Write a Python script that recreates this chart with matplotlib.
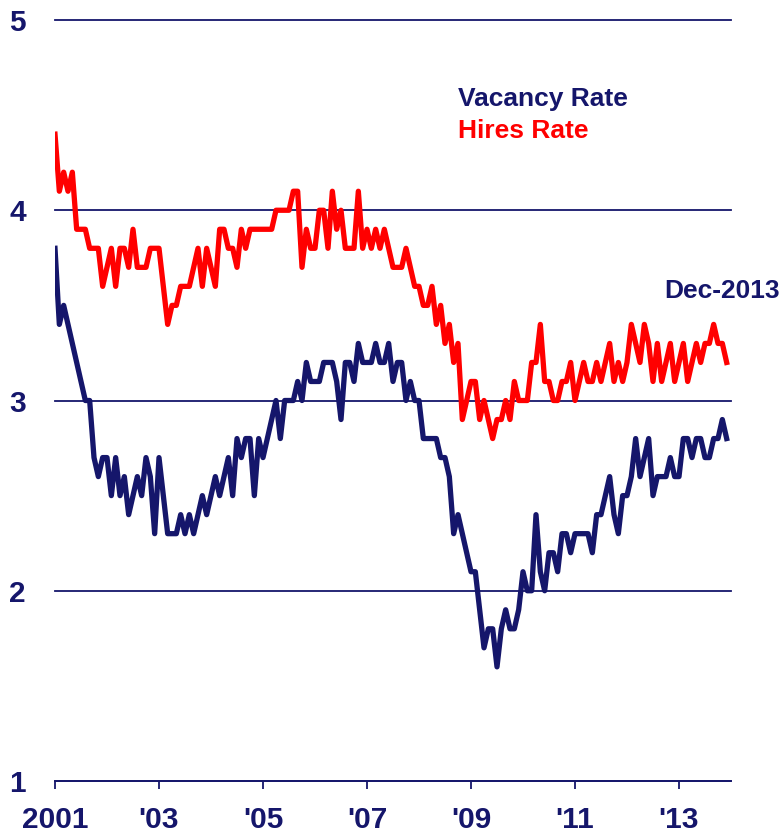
import numpy as np
import matplotlib
matplotlib.use("Agg")
import matplotlib.pyplot as plt

# Monthly data, Jan 2001 .. Dec 2013 (percent)
vacancy_rate = [
    3.8, 3.4, 3.5, 3.4, 3.3, 3.2, 3.1, 3.0, 3.0, 2.7, 2.6, 2.7,   # 2001
    2.7, 2.5, 2.7, 2.5, 2.6, 2.4, 2.5, 2.6, 2.5, 2.7, 2.6, 2.3,   # 2002
    2.7, 2.5, 2.3, 2.3, 2.3, 2.4, 2.3, 2.4, 2.3, 2.4, 2.5, 2.4,   # 2003
    2.5, 2.6, 2.5, 2.6, 2.7, 2.5, 2.8, 2.7, 2.8, 2.8, 2.5, 2.8,   # 2004
    2.7, 2.8, 2.9, 3.0, 2.8, 3.0, 3.0, 3.0, 3.1, 3.0, 3.2, 3.1,   # 2005
    3.1, 3.1, 3.2, 3.2, 3.2, 3.1, 2.9, 3.2, 3.2, 3.1, 3.3, 3.2,   # 2006
    3.2, 3.2, 3.3, 3.2, 3.2, 3.3, 3.1, 3.2, 3.2, 3.0, 3.1, 3.0,   # 2007
    3.0, 2.8, 2.8, 2.8, 2.8, 2.7, 2.7, 2.6, 2.3, 2.4, 2.3, 2.2,   # 2008
    2.1, 2.1, 1.9, 1.7, 1.8, 1.8, 1.6, 1.8, 1.9, 1.8, 1.8, 1.9,   # 2009
    2.1, 2.0, 2.0, 2.4, 2.1, 2.0, 2.2, 2.2, 2.1, 2.3, 2.3, 2.2,   # 2010
    2.3, 2.3, 2.3, 2.3, 2.2, 2.4, 2.4, 2.5, 2.6, 2.4, 2.3, 2.5,   # 2011
    2.5, 2.6, 2.8, 2.6, 2.7, 2.8, 2.5, 2.6, 2.6, 2.6, 2.7, 2.6,   # 2012
    2.6, 2.8, 2.8, 2.7, 2.8, 2.8, 2.7, 2.7, 2.8, 2.8, 2.9, 2.8,   # 2013
]
hires_rate = [
    4.4, 4.1, 4.2, 4.1, 4.2, 3.9, 3.9, 3.9, 3.8, 3.8, 3.8, 3.6,   # 2001
    3.7, 3.8, 3.6, 3.8, 3.8, 3.7, 3.9, 3.7, 3.7, 3.7, 3.8, 3.8,   # 2002
    3.8, 3.6, 3.4, 3.5, 3.5, 3.6, 3.6, 3.6, 3.7, 3.8, 3.6, 3.8,   # 2003
    3.7, 3.6, 3.9, 3.9, 3.8, 3.8, 3.7, 3.9, 3.8, 3.9, 3.9, 3.9,   # 2004
    3.9, 3.9, 3.9, 4.0, 4.0, 4.0, 4.0, 4.1, 4.1, 3.7, 3.9, 3.8,   # 2005
    3.8, 4.0, 4.0, 3.8, 4.1, 3.9, 4.0, 3.8, 3.8, 3.8, 4.1, 3.8,   # 2006
    3.9, 3.8, 3.9, 3.8, 3.9, 3.8, 3.7, 3.7, 3.7, 3.8, 3.7, 3.6,   # 2007
    3.6, 3.5, 3.5, 3.6, 3.4, 3.5, 3.3, 3.4, 3.2, 3.3, 2.9, 3.0,   # 2008
    3.1, 3.1, 2.9, 3.0, 2.9, 2.8, 2.9, 2.9, 3.0, 2.9, 3.1, 3.0,   # 2009
    3.0, 3.0, 3.2, 3.2, 3.4, 3.1, 3.1, 3.0, 3.0, 3.1, 3.1, 3.2,   # 2010
    3.0, 3.1, 3.2, 3.1, 3.1, 3.2, 3.1, 3.2, 3.3, 3.1, 3.2, 3.1,   # 2011
    3.2, 3.4, 3.3, 3.2, 3.4, 3.3, 3.1, 3.3, 3.1, 3.2, 3.3, 3.1,   # 2012
    3.2, 3.3, 3.1, 3.2, 3.3, 3.2, 3.3, 3.3, 3.4, 3.3, 3.3, 3.2,   # 2013
]
start_year = 2001
x_ticks = [2001, 2003, 2005, 2007, 2009, 2011, 2013]
x_tick_labels = ["2001", "'03", "'05", "'07", "'09", "'11", "'13"]
y_ticks = [1, 2, 3, 4, 5]
y_tick_labels = ["1", "2", "3", "4", "5"]
legend_labels = ["Vacancy Rate", "Hires Rate"]
end_label = "Dec-2013"

NAVY = "#15166B"
RED = "#FF0000"
FONT = ["Liberation Sans", "DejaVu Sans"]

plt.rcParams["font.family"] = FONT

months = np.arange(len(vacancy_rate))
x = start_year + months / 12.0

fig = plt.figure(figsize=(7.82, 8.34), dpi=100)
ax = fig.add_axes([55 / 782, 53 / 834, (731 - 55) / 782, (781 - 20) / 834])

ax.plot(x, vacancy_rate, color=NAVY, lw=3.8, solid_joinstyle="round", zorder=3)
ax.plot(x, hires_rate, color=RED, lw=3.8, solid_joinstyle="round", zorder=4)

ax.set_xlim(2001, 2014)
ax.set_ylim(1, 5)

ax.set_yticks(y_ticks)
ax.set_yticklabels(y_tick_labels)
ax.set_xticks(x_ticks)
ax.set_xticklabels(x_tick_labels)

for s in ["left", "right", "top"]:
    ax.spines[s].set_visible(False)
ax.spines["bottom"].set_color(NAVY)
ax.spines["bottom"].set_linewidth(1.3)

ax.tick_params(axis="y", length=0, pad=21, labelsize=21.5, labelcolor=NAVY)
ax.tick_params(axis="x", length=6, width=1.3, color=NAVY, direction="out",
               pad=12, labelsize=21.5, labelcolor=NAVY)
for lab in ax.get_xticklabels() + ax.get_yticklabels():
    lab.set_fontweight("bold")
for lab in ax.get_yticklabels():
    lab.set_horizontalalignment("right")

ax.grid(axis="y", color=NAVY, lw=1.3, zorder=1)
ax.grid(axis="x", visible=False)
ax.set_axisbelow(True)
for gl in ax.get_ygridlines():
    gl.set_clip_on(False)

fig.text(458 / 782, 1 - 106 / 834, legend_labels[0], color=NAVY, fontsize=19,
         fontweight="bold", ha="left", va="baseline")
fig.text(458 / 782, 1 - 138 / 834, legend_labels[1], color=RED, fontsize=19,
         fontweight="bold", ha="left", va="baseline")
fig.text(780 / 782, 1 - 298 / 834, end_label, color=NAVY, fontsize=19,
         fontweight="bold", ha="right", va="baseline")

fig.savefig("out.png", dpi=100, facecolor="white")
